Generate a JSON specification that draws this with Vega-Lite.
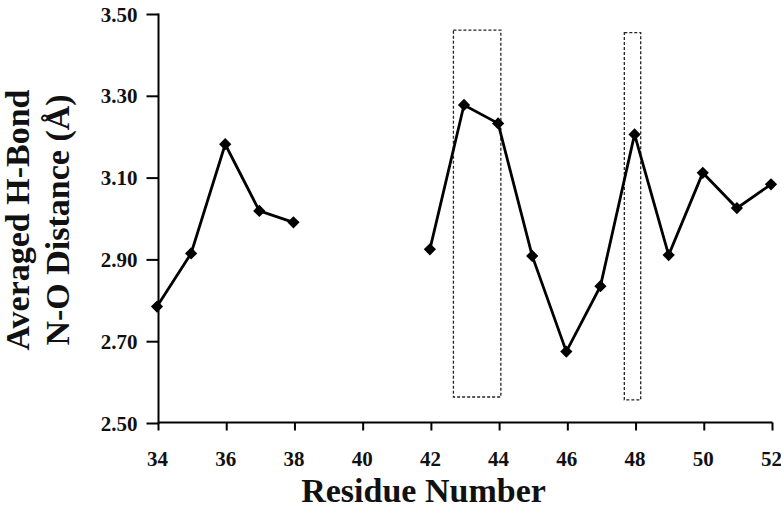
{
  "$schema": "https://vega.github.io/schema/vega-lite/v6.json",
  "width": 614,
  "height": 409,
  "autosize": "none",
  "padding": {"left": 157, "top": 15, "right": 10, "bottom": 83},
  "background": "white",
  "config": {
    "view": {"stroke": null},
    "font": "Liberation Serif",
    "axis": {"domain": false, "ticks": true, "tickColor": "#000000", "tickWidth": 2, "tickOpacity": 0, "grid": false}
  },
  "datasets": {
    "pts": [
      {"residue": 34, "distance": 2.787, "segment": "A"},
      {"residue": 35, "distance": 2.917, "segment": "A"},
      {"residue": 36, "distance": 3.184, "segment": "A"},
      {"residue": 37, "distance": 3.021, "segment": "A"},
      {"residue": 38, "distance": 2.993, "segment": "A"},
      {"residue": 42, "distance": 2.927, "segment": "B"},
      {"residue": 43, "distance": 3.280, "segment": "B"},
      {"residue": 44, "distance": 3.235, "segment": "B"},
      {"residue": 45, "distance": 2.911, "segment": "B"},
      {"residue": 46, "distance": 2.677, "segment": "B"},
      {"residue": 47, "distance": 2.837, "segment": "B"},
      {"residue": 48, "distance": 3.208, "segment": "B"},
      {"residue": 49, "distance": 2.913, "segment": "B"},
      {"residue": 50, "distance": 3.114, "segment": "B"},
      {"residue": 51, "distance": 3.028, "segment": "B"},
      {"residue": 52, "distance": 3.086, "segment": "B"}
    ],
    "boxes": [
      {"x0": 42.69, "x1": 44.08, "y0": 2.566, "y1": 3.463},
      {"x0": 47.70, "x1": 48.18, "y0": 2.559, "y1": 3.457}
    ],
    "xticks": [{"v": 34}, {"v": 36}, {"v": 38}, {"v": 40}, {"v": 42}, {"v": 44}, {"v": 46}, {"v": 48}, {"v": 50}, {"v": 52}],
    "yticks": [{"v": 2.5}, {"v": 2.7}, {"v": 2.9}, {"v": 3.1}, {"v": 3.3}, {"v": 3.5}]
  },
  "encoding": {
    "x": {
      "type": "quantitative",
      "scale": {"domain": [34, 52], "nice": false, "zero": false},
      "axis": {
        "values": [34, 36, 38, 40, 42, 44, 46, 48, 50, 52],
        "tickSize": 6, "labelFlush": false,
        "labelFont": "Liberation Serif", "labelFontWeight": "bold", "labelFontSize": 21, "labelColor": "#111", "labelPadding": 18,
        "title": "Residue Number", "titleFont": "Liberation Serif", "titleFontWeight": "bold", "titleFontSize": 34, "titleColor": "#111", "titlePadding": 5,
        "titleX": 266, "titleAlign": "center"
      }
    },
    "y": {
      "type": "quantitative",
      "scale": {"domain": [2.5, 3.5], "nice": false, "zero": false},
      "axis": {
        "values": [2.5, 2.7, 2.9, 3.1, 3.3, 3.5], "format": ".2f",
        "tickSize": 10, "labelFlush": false,
        "labelFont": "Liberation Serif", "labelFontWeight": "bold", "labelFontSize": 21, "labelColor": "#111", "labelPadding": 10,
        "title": ["Averaged H-Bond", "N-O Distance (Å)"], "titleFont": "Liberation Serif", "titleFontWeight": "bold", "titleFontSize": 34, "titleColor": "#111", "titlePadding": 25, "titleLineHeight": 40
      }
    }
  },
  "layer": [
    {
      "data": {"name": "boxes"},
      "mark": {"type": "rect", "fill": null, "fillOpacity": 0, "stroke": "#222222", "strokeWidth": 1.3, "strokeDash": [3, 2]},
      "encoding": {
        "x": {"field": "x0", "type": "quantitative"},
        "x2": {"field": "x1"},
        "y": {"field": "y0", "type": "quantitative"},
        "y2": {"field": "y1"}
      }
    },
    {
      "data": {"values": [{"axis": "x"}]},
      "mark": {"type": "point", "shape": "M0,0L2,0", "size": 376996, "filled": false, "stroke": "black", "strokeWidth": 2, "yOffset": -1.5, "xOffset": 1.5, "opacity": 1},
      "encoding": {"x": {"datum": 34, "type": "quantitative"}, "y": {"datum": 2.5, "type": "quantitative"}}
    },
    {
      "data": {"values": [{"axis": "y"}]},
      "mark": {"type": "point", "shape": "M0,0L0,-2", "size": 168100, "filled": false, "stroke": "black", "strokeWidth": 2, "xOffset": 1.5, "yOffset": -0.5, "opacity": 1},
      "encoding": {"x": {"datum": 34, "type": "quantitative"}, "y": {"datum": 2.5, "type": "quantitative"}}
    },
    {
      "data": {"name": "xticks"},
      "mark": {"type": "point", "shape": "M0,0L0,2", "size": 64, "filled": false, "stroke": "black", "strokeWidth": 2, "yOffset": -1.5, "xOffset": 1.5, "opacity": 1},
      "encoding": {"x": {"field": "v", "type": "quantitative"}, "y": {"datum": 2.5, "type": "quantitative"}}
    },
    {
      "data": {"name": "yticks"},
      "mark": {"type": "point", "shape": "M0,0L-2,0", "size": 144, "filled": false, "stroke": "black", "strokeWidth": 2, "xOffset": 1.5, "yOffset": -0.5, "opacity": 1},
      "encoding": {"x": {"datum": 34, "type": "quantitative"}, "y": {"field": "v", "type": "quantitative"}}
    },
    {
      "data": {"name": "pts"},
      "mark": {"type": "line", "color": "black", "strokeWidth": 2.8, "point": {"shape": "diamond", "size": 150, "filled": true, "color": "black", "opacity": 1}},
      "encoding": {
        "x": {"field": "residue", "type": "quantitative"},
        "y": {"field": "distance", "type": "quantitative"},
        "detail": {"field": "segment", "type": "nominal"}
      }
    }
  ]
}
